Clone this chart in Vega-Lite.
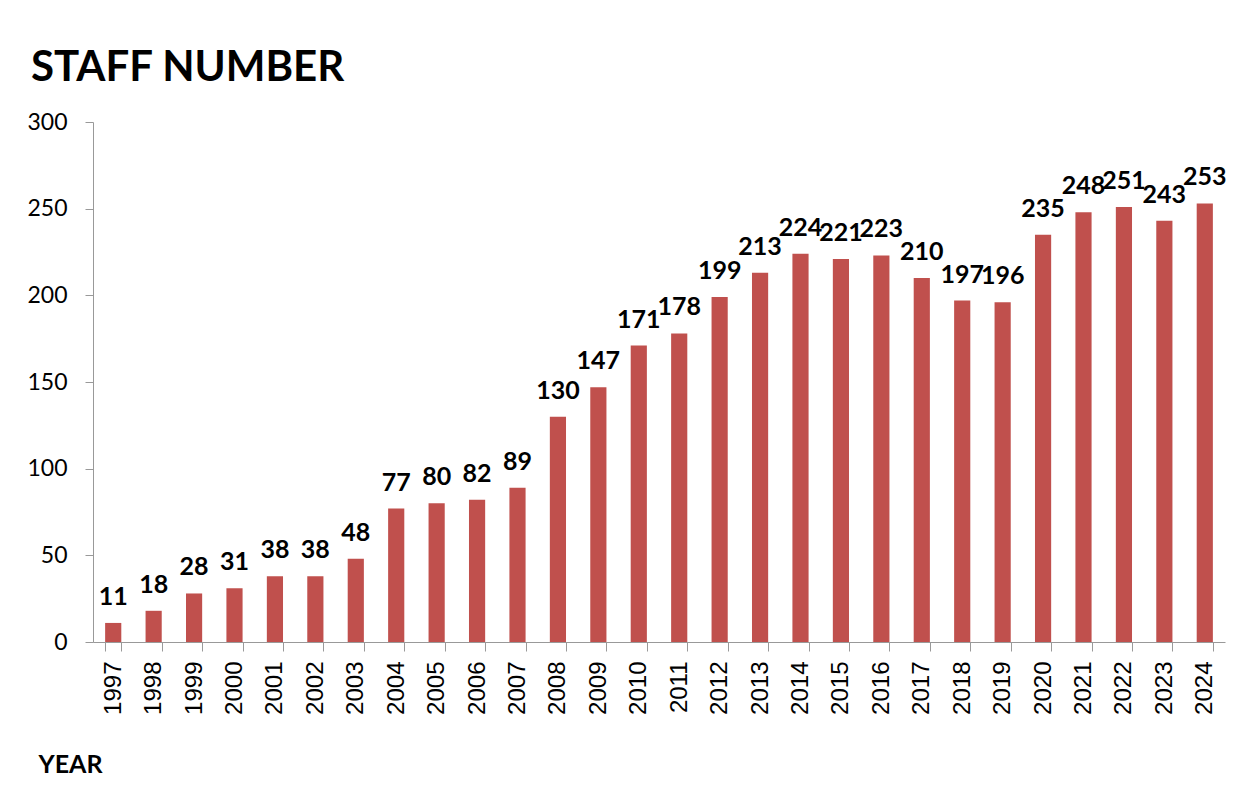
{
  "$schema": "https://vega.github.io/schema/vega-lite/v6.json",
  "width": 1132,
  "height": 520,
  "autosize": {"type": "none"},
  "padding": {"left": 93, "top": 122, "right": 28, "bottom": 147},
  "background": "white",
  "title": {
    "text": "STAFF NUMBER",
    "anchor": "start",
    "dx": 4,
    "offset": -12,
    "baseline": "alphabetic",
    "font": "Lato",
    "fontSize": 42,
    "fontWeight": "bold",
    "color": "#000000"
  },
  "data": {
    "values": [
      {"year": "1997", "staff": 11},
      {"year": "1998", "staff": 18},
      {"year": "1999", "staff": 28},
      {"year": "2000", "staff": 31},
      {"year": "2001", "staff": 38},
      {"year": "2002", "staff": 38},
      {"year": "2003", "staff": 48},
      {"year": "2004", "staff": 77},
      {"year": "2005", "staff": 80},
      {"year": "2006", "staff": 82},
      {"year": "2007", "staff": 89},
      {"year": "2008", "staff": 130},
      {"year": "2009", "staff": 147},
      {"year": "2010", "staff": 171},
      {"year": "2011", "staff": 178},
      {"year": "2012", "staff": 199},
      {"year": "2013", "staff": 213},
      {"year": "2014", "staff": 224},
      {"year": "2015", "staff": 221},
      {"year": "2016", "staff": 223},
      {"year": "2017", "staff": 210},
      {"year": "2018", "staff": 197},
      {"year": "2019", "staff": 196},
      {"year": "2020", "staff": 235},
      {"year": "2021", "staff": 248},
      {"year": "2022", "staff": 251},
      {"year": "2023", "staff": 243},
      {"year": "2024", "staff": 253}
    ]
  },
  "encoding": {
    "x": {
      "field": "year",
      "type": "nominal",
      "sort": null,
      "scale": {"paddingInner": 0.6, "paddingOuter": 0.3},
      "axis": {
        "title": "YEAR",
        "titleFont": "Lato",
        "titleFontSize": 25,
        "titleFontWeight": "bold",
        "titleColor": "#000000",
        "titleAnchor": "start",
        "titleAlign": "left",
        "titleBaseline": "alphabetic",
        "titleX": -55,
        "titleY": 130,
        "labelAngle": -90,
        "labelAlign": "right",
        "labelBaseline": "middle",
        "labelFont": "Liberation Sans",
        "labelFontSize": 24,
        "labelColor": "#000000",
        "labelPadding": 10,
        "tickBand": "extent",
        "tickSize": 9,
        "tickColor": "#999999",
        "domainColor": "#999999",
        "grid": false
      }
    },
    "y": {
      "field": "staff",
      "type": "quantitative",
      "scale": {"domain": [0, 300], "nice": false},
      "axis": {
        "title": null,
        "values": [0, 50, 100, 150, 200, 250, 300],
        "labelFont": "Lato",
        "labelFontSize": 23,
        "labelColor": "#000000",
        "labelPadding": 18,
        "tickSize": 8,
        "tickColor": "#999999",
        "domainColor": "#999999",
        "grid": false
      }
    }
  },
  "layer": [
    {"mark": {"type": "bar", "color": "#C0504D"}},
    {
      "mark": {
        "type": "text",
        "dy": -18,
        "baseline": "alphabetic",
        "font": "Lato",
        "fontSize": 25,
        "fontWeight": "bold",
        "color": "#000000"
      },
      "encoding": {"text": {"field": "staff", "type": "quantitative"}}
    }
  ],
  "config": {"view": {"stroke": null}}
}
